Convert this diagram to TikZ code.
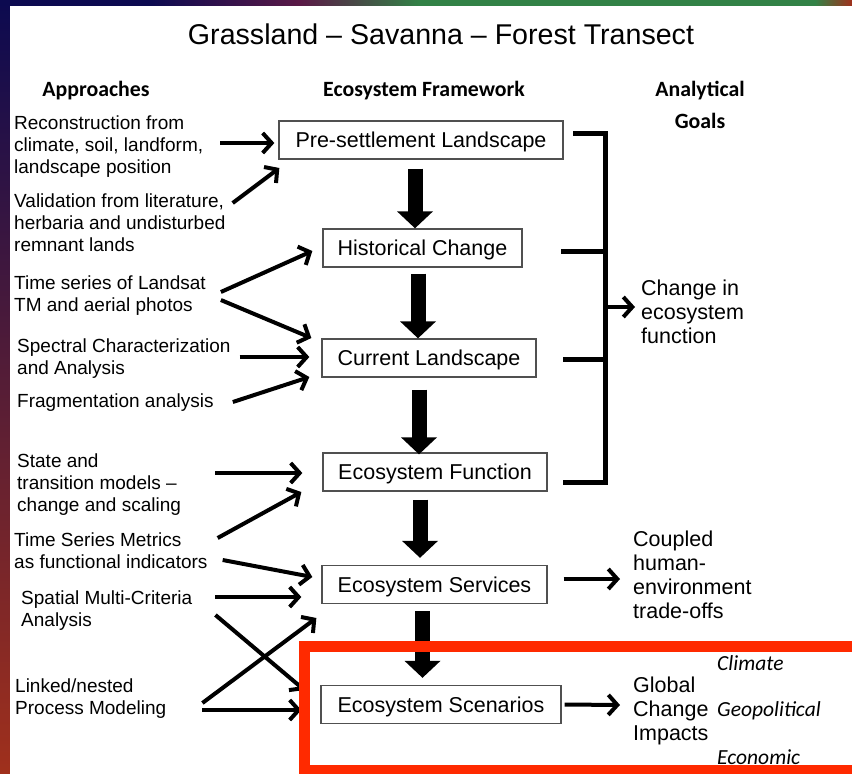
\documentclass[tikz,border=0pt]{standalone}
\usepackage{fontspec}
\setmainfont{Liberation Sans}
\newfontfamily\carl{Carlito}
\usetikzlibrary{arrows.meta,calc}
\definecolor{redbox}{HTML}{FF2A00}
\definecolor{navyc}{RGB}{12,10,80}
\definecolor{purc}{RGB}{90,25,70}
\definecolor{redc}{RGB}{160,48,28}
\definecolor{grnc}{RGB}{50,130,70}
\definecolor{boxc}{RGB}{80,80,80}
\begin{document}
\begin{tikzpicture}[x=1pt,y=-1pt,
  box/.style={draw=boxc,line width=1.3pt,fill=white,inner sep=0pt,minimum height=38pt,text height=15.5pt,text depth=0pt,font=\fontsize{21.5}{24}\selectfont},
  ltxt/.style={anchor=west,align=left,inner sep=0pt,font=\fontsize{19}{22}\selectfont},
  rtxt/.style={anchor=west,align=left,inner sep=0pt,font=\fontsize{21.5}{24}\selectfont},
  hdr/.style={inner sep=0pt,font=\carl\bfseries\fontsize{21.8}{24}\selectfont},
  itl/.style={anchor=west,inner sep=0pt,font=\carl\itshape\fontsize{21.5}{24}\selectfont},
  thinarrow/.style={line width=4pt,-{Straight Barb[length=9pt,width=20pt]}},
  fatarrow/.style={line width=15pt,-{Triangle[length=17pt,width=35pt]}},
  brk/.style={line width=5pt},
]
\useasboundingbox (0,0) rectangle (852,774);
% background
\shade[top color=navyc, middle color=purc, bottom color=redc] (0,0) rectangle (852,774);
\shade[left color=navyc, right color=purc] (150,0) rectangle (300,6);
\fill[navyc] (0,0) rectangle (150,6);
\shade[left color=purc, right color=grnc] (300,0) rectangle (420,6);
\fill[grnc] (420,0) rectangle (815,6);
\shade[left color=grnc, right color=redc] (815,0) rectangle (852,6);
\fill[white] (10,6) rectangle (852,774);

% title and headers
\node[inner sep=0pt,font=\fontsize{28.6}{32}\selectfont] (title) at (441,34) {Grassland – Savanna – Forest Transect};
\node[hdr] (hA) at (96,91) {Approaches};
\node[hdr] (hE) at (424,91) {Ecosystem Framework};
\node[hdr] (hG1) at (700,91) {Analytical};
\node[hdr] (hG2) at (700,121) {Goals};

% framework boxes
\node[box,minimum width=284pt] (pre) at (421,140) {Pre-settlement Landscape};
\node[box,minimum width=199pt] (hist) at (422.5,248) {Historical Change};
\node[box,minimum width=214pt] (cur) at (429,358) {Current Landscape};
\node[box,minimum width=224pt] (func) at (435,472) {Ecosystem Function};
\node[box,minimum width=225pt] (serv) at (434.5,584.5) {Ecosystem Services};
\node[box,minimum width=240pt] (scen) at (441,704.5) {Ecosystem Scenarios};

% approaches
\node[ltxt] (t1) at (14,146.5) {Reconstruction from\\climate, soil, landform,\\landscape position};
\node[ltxt] (t2) at (14,222.5) {Validation from literature,\\herbaria and undisturbed\\remnant lands};
\node[ltxt] (t3) at (14,296) {Time series of Landsat\\TM and aerial photos};
\node[ltxt] (t4) at (17,358.5) {Spectral Characterization\\and Analysis};
\node[ltxt] (t5) at (17,402.5) {Fragmentation analysis};
\node[ltxt] (t6) at (17,484.5) {State and\\transition models –\\change and scaling};
\node[ltxt] (t7) at (14,551) {Time Series Metrics\\as functional indicators};
\node[ltxt] (t8) at (21,610.5) {Spatial Multi-Criteria\\Analysis};
\node[ltxt] (t9) at (15,698.5) {Linked/nested\\Process Modeling};

% goals
\node[rtxt] (chg) at (641,312) {Change in\\ecosystem\\function};
\node[rtxt] (cpl) at (633,575) {Coupled\\human-\\environment\\trade-offs};
\node[rtxt] (glob) at (633,711) {Global\\Change\\Impacts};
\node[itl] (clim) at (717,663) {Climate};
\node[itl] (geo) at (717,711) {Geopolitical};
\node[itl] (eco) at (717,757.5) {Economic};

% fat arrows
\draw[fatarrow] ([shift={(-6,9)}]pre.south) -- ([shift={(-7.5,0)}]hist.north);
\draw[fatarrow] ([shift={(-4.5,6)}]hist.south) -- ([shift={(-11,0)}]cur.north);
\draw[fatarrow] ([shift={(-10,12)}]cur.south) -- ([shift={(-16,2)}]func.north);
\draw[fatarrow] ([shift={(-15,8)}]func.south) -- ([shift={(-14.5,-7)}]serv.north);
\draw[fatarrow] ([shift={(-12,7)}]serv.south) -- ([shift={(-18.5,-7)}]scen.north);

% thin arrows from approaches
\draw[thinarrow] ([shift={(17,-3.5)}]t1.east) -- ([shift={(-4,3)}]pre.west);
\draw[thinarrow] ([shift={(7,-19.5)}]t2.east) -- ([shift={(1,28)}]pre.west);
\draw[thinarrow] ([shift={(15,-4)}]t3.east) -- ([shift={(-10,3)}]hist.west);
\draw[thinarrow] ([shift={(15,4)}]t3.east) -- ([shift={(-10,-20)}]cur.west);
\draw[thinarrow] ([shift={(9,-1.5)}]t4.east) -- ([shift={(-12,-1)}]cur.west);
\draw[thinarrow] ([shift={(19,-0.5)}]t5.east) -- ([shift={(-12,19)}]cur.west);
\draw[thinarrow] ([shift={(34,-11.5)}]t6.east) -- ([shift={(-20,1)}]func.west);
\draw[thinarrow] ([shift={(10,-13)}]t7.east) -- ([shift={(-21,20)}]func.west);
\draw[thinarrow] ([shift={(15,9)}]t7.east) -- ([shift={(-9,-7.5)}]serv.west);
\draw[thinarrow] ([shift={(23,-13.5)}]t8.east) -- ([shift={(-20,12.5)}]serv.west);
\draw[thinarrow] ([shift={(23,4.5)}]t8.east) -- ([shift={(-16,-14.5)}]scen.west);
\draw[thinarrow] ([shift={(36,4.5)}]t9.east) -- ([shift={(-5,33.5)}]serv.west);
\draw[thinarrow] ([shift={(36,11.5)}]t9.east) -- ([shift={(-19,5.5)}]scen.west);

% arrows to goals
\draw[thinarrow] ([shift={(16,-5.5)}]serv.east) -- ([shift={(-13,4)}]cpl.west);
\draw[thinarrow] ([shift={(3,0)}]scen.east) -- ([shift={(-13,-6)}]glob.west);

% bracket
\draw[brk] (573,133) -- (605,133) -- (605,482) -- (563,482);
\draw[brk] (561,251) -- (605,251);
\draw[brk] (563,359) -- (605,359);
\coordinate (brc) at (605,307);
\draw[thinarrow] (brc) -- ([shift={(-6,-5)}]chg.west);

% red highlight
\draw[redbox,line width=11pt] (304,646.5) rectangle (880,770);
\end{tikzpicture}
\end{document}
